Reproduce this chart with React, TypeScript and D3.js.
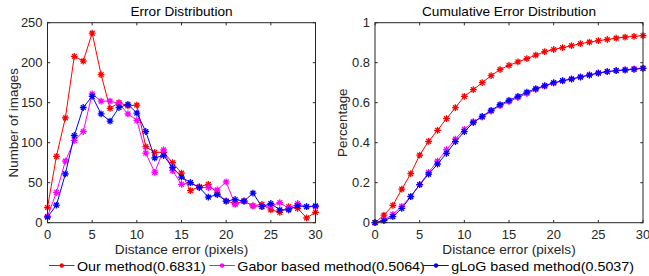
import * as d3 from "d3";

const xs = d3.range(0, 31);

const ourCounts = [19, 83, 131, 208, 202, 237, 185, 143, 150, 146, 147, 95, 88, 88, 75, 62, 40, 45, 48, 37, 27, 24, 27, 21, 23, 16, 13, 20, 18, 6, 13];
const gaborCounts = [8, 38, 77, 103, 114, 161, 152, 152, 149, 136, 128, 87, 63, 91, 65, 48, 50, 44, 44, 41, 51, 23, 27, 21, 20, 21, 25, 18, 24, 20, 20];
const glogCounts = [7, 22, 61, 109, 144, 158, 136, 127, 144, 148, 137, 114, 81, 84, 69, 57, 50, 44, 32, 35, 27, 29, 27, 37, 20, 24, 16, 16, 21, 20, 21];

const ourCum = [0, 0.038, 0.087, 0.168, 0.245, 0.338, 0.407, 0.462, 0.52, 0.575, 0.632, 0.665, 0.7, 0.735, 0.766, 0.787, 0.804, 0.82, 0.838, 0.855, 0.866, 0.875, 0.885, 0.895, 0.903, 0.91, 0.916, 0.923, 0.928, 0.932, 0.935];
const gaborCum = [0, 0.013, 0.042, 0.082, 0.132, 0.19, 0.252, 0.308, 0.365, 0.418, 0.467, 0.505, 0.528, 0.558, 0.585, 0.606, 0.626, 0.646, 0.666, 0.683, 0.698, 0.709, 0.719, 0.729, 0.739, 0.749, 0.756, 0.761, 0.765, 0.769, 0.773];
const glogCum = [0, 0.01, 0.03, 0.072, 0.13, 0.19, 0.243, 0.293, 0.347, 0.405, 0.455, 0.5, 0.532, 0.562, 0.59, 0.612, 0.632, 0.653, 0.67, 0.685, 0.7, 0.71, 0.718, 0.728, 0.738, 0.748, 0.755, 0.76, 0.763, 0.767, 0.772];

const seriesNames = ["Our method(0.6831)", "Gabor based method(0.5064)", "gLoG based method(0.5037)"];
const seriesColors = ["#ff0000", "#ff00ff", "#0000ff"];

const xTicks = [0, 5, 10, 15, 20, 25, 30];
const leftYTicks = [0, 50, 100, 150, 200, 250];
const rightYTicks = [0, 0.2, 0.4, 0.6, 0.8, 1];

const FONT = "Liberation Sans, Arial, sans-serif";
const AXIS = "#262626";
const top = 22.7;
const bottom = 222.7;

// the reference looks stretched a little sideways, so texts get a horizontal scale
function T({ x, y, size, sx = 1, anchor = "start", fill = AXIS, children }: {
  x: number; y: number; size: number; sx?: number; anchor?: string; fill?: string; children: React.ReactNode;
}) {
  return (
    <text transform={`translate(${x},${y}) scale(${sx},1)`} textAnchor={anchor} fontSize={size} fill={fill}>
      {children}
    </text>
  );
}

function Marker({ cx, cy, color, r = 3.4 }: { cx: number; cy: number; color: string; r?: number }) {
  const d = d3.range(4).map((i) => {
    const a = (i * Math.PI) / 4;
    const dx = Math.cos(a) * r;
    const dy = Math.sin(a) * r;
    return `M${cx - dx},${cy - dy}L${cx + dx},${cy + dy}`;
  }).join("");
  return <path d={d} stroke={color} strokeWidth={1.3} />;
}

function Panel({
  x0, x1, title, yLabel, yDomain, yTicks, data, yLabelX,
}: {
  x0: number; x1: number; title: string; yLabel: string;
  yDomain: [number, number]; yTicks: number[];
  data: number[][]; yLabelX: number;
}) {
  const x = d3.scaleLinear().domain([0, 30]).range([x0, x1]);
  const y = d3.scaleLinear().domain(yDomain).range([bottom, top]);
  const line = d3.line<number>().x((_, i) => x(xs[i])).y((v) => y(v));
  const tl = 2.7;
  return (
    <g fontFamily={FONT}>
      {data.map((vals, s) => (
        <g key={s}>
          <path d={line(vals) ?? ""} fill="none" stroke={seriesColors[s]} strokeWidth={1} />
          {vals.map((v, i) => (
            <Marker key={i} cx={x(xs[i])} cy={y(v)} color={seriesColors[s]} />
          ))}
        </g>
      ))}
      <rect x={x0} y={top} width={x1 - x0} height={bottom - top} fill="none" stroke={AXIS} strokeWidth={1} />
      {xTicks.map((t) => (
        <g key={t}>
          <line x1={x(t)} x2={x(t)} y1={bottom} y2={bottom - tl} stroke={AXIS} />
          <line x1={x(t)} x2={x(t)} y1={top} y2={top + tl} stroke={AXIS} />
          <T x={x(t)} y={238.5} size={12} sx={1.08} anchor="middle">{t}</T>
        </g>
      ))}
      {yTicks.map((t) => (
        <g key={t}>
          <line x1={x0} x2={x0 + tl} y1={y(t)} y2={y(t)} stroke={AXIS} />
          <line x1={x1} x2={x1 - tl} y1={y(t)} y2={y(t)} stroke={AXIS} />
          <T x={x0 - 5} y={y(t) + 4.2} size={12} sx={1.08} anchor="end">{`${t}`}</T>
        </g>
      ))}
      <T x={(x0 + x1) / 2} y={16} size={12.5} sx={1.09} anchor="middle" fill="#000">{title}</T>
      <T x={(x0 + x1) / 2} y={253.8} size={13} sx={1.05} anchor="middle">Distance error (pixels)</T>
      <text transform={`translate(${yLabelX},${(top + bottom) / 2}) rotate(-90)`} textAnchor="middle" fontSize={13.4} fill={AXIS}>{yLabel}</text>
    </g>
  );
}

export default function App() {
  const legendX = [49, 209.3, 423.3];
  const legendLen = 25.5;
  return (
    <svg width={649} height={276} style={{ position: "absolute", left: 0, top: 0 }}>
      <rect width={649} height={276} fill="white" />
      <Panel
        x0={47.5} x1={315.5} title="Error Distribution" yLabel="Number of images"
        yDomain={[0, 250]} yTicks={leftYTicks}
        data={[ourCounts, gaborCounts, glogCounts]} yLabelX={17.5}
      />
      <Panel
        x0={375} x1={643} title="Cumulative Error Distribution" yLabel="Percentage"
        yDomain={[0, 1]} yTicks={rightYTicks}
        data={[ourCum, gaborCum, glogCum]} yLabelX={347}
      />
      <g fontFamily={FONT}>
        {seriesNames.map((n, i) => (
          <g key={n}>
            <line x1={legendX[i]} x2={legendX[i] + legendLen} y1={265.5} y2={265.5} stroke={seriesColors[i]} strokeWidth={1} />
            <Marker cx={legendX[i] + legendLen / 2} cy={265.5} color={seriesColors[i]} r={2.2} />
            <T x={legendX[i] + legendLen + 2.5} y={270.5} size={13} sx={1.1} fill="#000">{n}</T>
          </g>
        ))}
      </g>
    </svg>
  );
}
